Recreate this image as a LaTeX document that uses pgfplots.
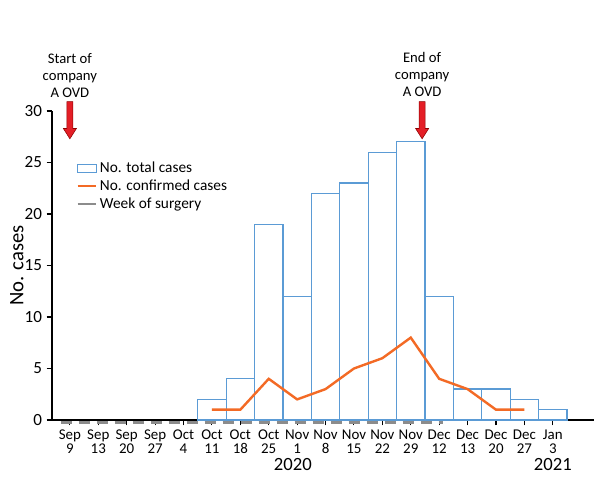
\documentclass[border=0pt]{standalone}
\usepackage{fontspec}
\setmainfont{Carlito}
\usepackage{pgfplots}
\pgfplotsset{compat=1.18}
\definecolor{barblue}{HTML}{5B9BD5}
\definecolor{lineorange}{HTML}{F36A25}
\definecolor{arrowred}{HTML}{E41E26}
\definecolor{surggray}{HTML}{8C8C8C}
\newcommand{\ovdarrow}[1]{%
  \draw[fill=arrowred, draw=red!55!black, line width=0.4pt]
    (axis cs:{#1-0.106},30.9) -- (axis cs:{#1+0.106},30.9) -- (axis cs:{#1+0.106},28.3)
    -- (axis cs:{#1+0.23},28.3) -- (axis cs:{#1},27.3) -- (axis cs:{#1-0.23},28.3)
    -- (axis cs:{#1-0.106},28.3) -- cycle;}
\begin{document}
\begin{tikzpicture}
\begin{axis}[
  scale only axis, width=406.5pt, height=231.75pt,
  xmin=-0.63, xmax=18.45, ymin=0, ymax=30,
  axis lines*=left,
  axis line style={line width=0.9pt},
  clip=false,
  xtick={0,...,17},
  xticklabels={{Sep\\9},{Sep\\13},{Sep\\20},{Sep\\27},{Oct\\4},{Oct\\11},{Oct\\18},{Oct\\25},{Nov\\1},{Nov\\8},{Nov\\15},{Nov\\22},{Nov\\29},{Dec\\12},{Dec\\13},{Dec\\20},{Dec\\27},{Jan\\3}},
  xticklabel style={align=center, font=\fontsize{11.2}{10.5}\selectfont},
  ytick={0,5,...,30},
  yticklabel style={font=\fontsize{12.8}{13}\selectfont},
  /pgf/number format/assume math mode=true,
  tick align=outside, major tick length=4pt,
  tick style={black, line width=0.8pt},
  ylabel={No. cases},
  ylabel style={font=\fontsize{15.5}{17}\selectfont, at={(axis description cs:-0.065,0.5)}, anchor=center},
  legend style={at={(axis description cs:0.045,0.845)}, anchor=north west, draw=none, fill=none,
    font=\fontsize{11.5}{12.4}\selectfont, inner sep=0pt, row sep=0pt},
  legend cell align=left,
]
\addplot[ybar, bar width=1, bar shift=0, draw=barblue, fill=white, line width=0.9pt,
  legend image code/.code={\draw[barblue, fill=white, line width=0.8pt, solid] (0pt,-3pt) rectangle (14pt,3pt);}]
  coordinates {(5,2) (6,4) (7,19) (8,12) (9,22) (10,23) (11,26) (12,27) (13,12) (14,3) (15,3) (16,2) (17,1)};
\addlegendentry{No. total cases}
\addplot[lineorange, line width=1.8pt, mark=none,
  legend image code/.code={\draw[lineorange, line width=1.5pt, solid] (0pt,0pt) -- (14pt,0pt);}]
  coordinates {(5,1) (6,1) (7,4) (8,2) (9,3) (10,5) (11,6) (12,8) (13,4) (14,3) (15,1) (16,1)};
\addlegendentry{No. confirmed cases}
\addplot[surggray, line width=2.2pt, dash pattern=on 8.25pt off 5.25pt, mark=none,
  legend image code/.code={\draw[surggray, line width=1.5pt, solid] (0pt,0pt) -- (14pt,0pt);}]
  coordinates {(-0.33,-0.25) (13.15,-0.25)};
\addlegendentry{Week of surgery}
\ovdarrow{0}
\ovdarrow{12.4}
\node[align=center, font=\fontsize{11}{12.75}\selectfont, anchor=south, inner sep=0pt] at (axis cs:0,31.25) {Start of\\company\\A OVD};
\node[align=center, font=\fontsize{11}{12.75}\selectfont, anchor=south, inner sep=0pt] at (axis cs:12.4,31.38) {End of\\company\\A OVD};
\node[font=\fontsize{14}{16}\selectfont, anchor=center, inner sep=0pt] at (axis cs:7.85,-4.3) {2020};
\node[font=\fontsize{14}{16}\selectfont, anchor=center, inner sep=0pt] at (axis cs:17,-4.3) {2021};
\coordinate (O) at (rel axis cs:0,0);
\end{axis}
\pgfresetboundingbox
\path[use as bounding box] ([shift={(-39pt,-43.5pt)}]O) rectangle ([shift={(411pt,315pt)}]O);
\end{tikzpicture}
\end{document}
